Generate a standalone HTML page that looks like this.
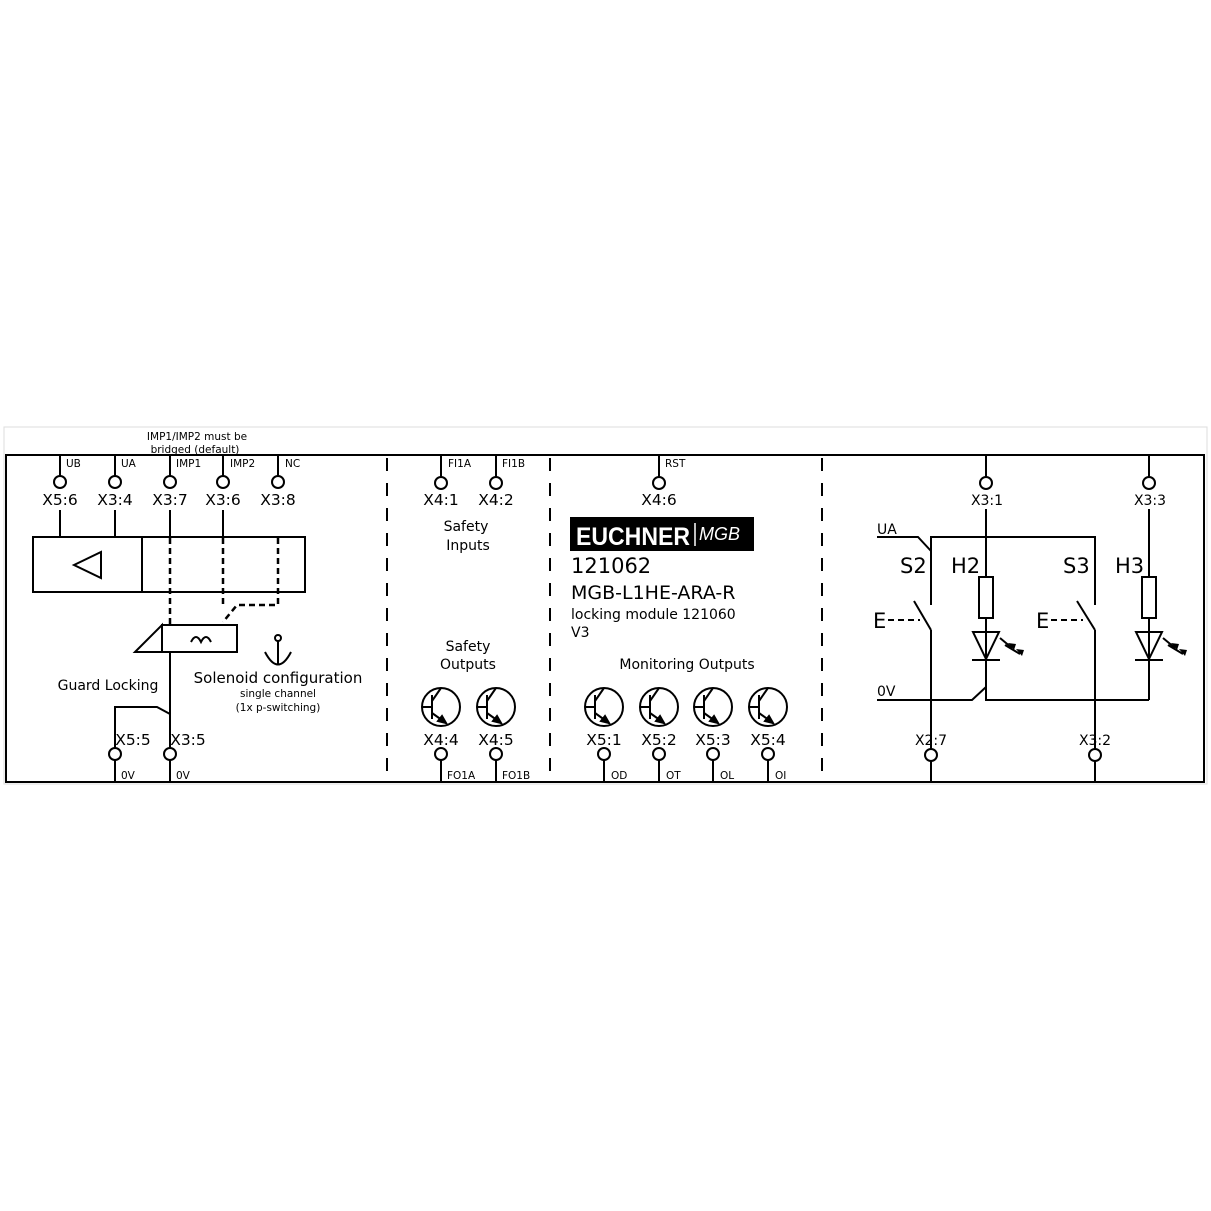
<!DOCTYPE html>
<html><head><meta charset="utf-8"><style>
html,body{margin:0;padding:0;background:#fff;}
svg{display:block;}
text{font-family:"DejaVu Sans","Liberation Sans",sans-serif;fill:#000;}
</style></head><body>
<svg width="1211" height="1211" viewBox="0 0 1211 1211" xmlns="http://www.w3.org/2000/svg">
<rect x="0" y="0" width="1211" height="1211" fill="#fff"/>
<rect x="4" y="427" width="1203" height="357" fill="none" stroke="#ddd" stroke-width="1"/>
<g stroke="#000" stroke-width="2" fill="none">
<rect x="6" y="455" width="1198" height="327"/>
<line x1="387" y1="458" x2="387" y2="780" stroke-dasharray="13,12"/>
<line x1="550" y1="458" x2="550" y2="780" stroke-dasharray="13,12"/>
<line x1="822" y1="458" x2="822" y2="780" stroke-dasharray="13,12"/>
<line x1="60" y1="455" x2="60" y2="476"/><circle cx="60" cy="482" r="6"/><line x1="60" y1="510" x2="60" y2="537"/>
<line x1="115" y1="455" x2="115" y2="476"/><circle cx="115" cy="482" r="6"/><line x1="115" y1="510" x2="115" y2="537"/>
<line x1="170" y1="455" x2="170" y2="476"/><circle cx="170" cy="482" r="6"/><line x1="170" y1="510" x2="170" y2="537"/>
<line x1="223" y1="455" x2="223" y2="476"/><circle cx="223" cy="482" r="6"/><line x1="223" y1="510" x2="223" y2="537"/>
<line x1="278" y1="455" x2="278" y2="476"/><circle cx="278" cy="482" r="6"/>
<rect x="33" y="537" width="272" height="55"/>
<line x1="142" y1="537" x2="142" y2="592"/>
<polygon points="74,565 101,552 101,578"/>
<g stroke-width="2.5" stroke-dasharray="6,4">
<line x1="170" y1="538" x2="170" y2="624"/>
<line x1="223" y1="538" x2="223" y2="605"/>
<polyline points="278,538 278,605 237,605 223,622"/>
</g>
<rect x="162" y="625" width="75" height="27"/>
<polygon points="135,652 162,625 162,652"/>
<path d="M191,642 q5,-10 10,0 q5,-10 10,0"/>
<line x1="170" y1="652" x2="170" y2="748"/>
<polyline points="170,714 157,707 115,707 115,748"/>
<circle cx="115" cy="754" r="6"/><line x1="115" y1="760" x2="115" y2="782"/>
<circle cx="170" cy="754" r="6"/><line x1="170" y1="760" x2="170" y2="782"/>
<circle cx="278" cy="638" r="3"/><line x1="278" y1="641" x2="278" y2="665"/><path d="M265,652 q13,25 26,0"/>
<line x1="441" y1="455" x2="441" y2="477"/><circle cx="441" cy="483" r="6"/>
<line x1="496" y1="455" x2="496" y2="477"/><circle cx="496" cy="483" r="6"/>
<line x1="659" y1="455" x2="659" y2="477"/><circle cx="659" cy="483" r="6"/>
</g>
<g stroke="#000" stroke-width="2" fill="none">
<g id="tr"><circle cx="441" cy="707" r="19"/><line x1="422" y1="707" x2="432" y2="707"/><line x1="432" y1="695" x2="432" y2="719"/><line x1="432" y1="701" x2="441" y2="688"/><line x1="432" y1="713" x2="446" y2="723"/><polygon points="446,723 438,721 442,716" fill="#000"/>
<circle cx="441" cy="754" r="6"/><line x1="441" y1="760" x2="441" y2="782"/></g>
<use href="#tr" x="55"/><use href="#tr" x="163"/><use href="#tr" x="218"/><use href="#tr" x="272"/><use href="#tr" x="327"/>
</g>
<g stroke="#000" stroke-width="2" fill="none">
<line x1="986" y1="455" x2="986" y2="477"/><circle cx="986" cy="483" r="6"/><line x1="986" y1="509" x2="986" y2="577"/>
<line x1="1149" y1="455" x2="1149" y2="477"/><circle cx="1149" cy="483" r="6"/><line x1="1149" y1="509" x2="1149" y2="577"/>
<polyline points="877,537 918,537 931,551"/>
<polyline points="931,605 931,537 1095,537 1095,605"/>
<line x1="914" y1="601" x2="931" y2="630"/><line x1="931" y1="630" x2="931" y2="749"/>
<line x1="1077" y1="601" x2="1095" y2="630"/><line x1="1095" y1="630" x2="1095" y2="749"/>
<line x1="888" y1="620" x2="920" y2="620" stroke-dasharray="6,4"/>
<line x1="1051" y1="620" x2="1083" y2="620" stroke-dasharray="6,4"/>
<rect x="979" y="577" width="14" height="41"/><line x1="986" y1="618" x2="986" y2="700"/>
<rect x="1142" y="577" width="14" height="41"/><line x1="1149" y1="618" x2="1149" y2="700"/>
<polygon points="973,632 999,632 986,659"/><line x1="972" y1="660" x2="1000" y2="660"/>
<polygon points="1136,632 1162,632 1149,659"/><line x1="1135" y1="660" x2="1163" y2="660"/>
<line x1="1000" y1="638" x2="1012" y2="648"/><line x1="1005" y1="645" x2="1020" y2="654"/>
<line x1="1163" y1="638" x2="1175" y2="648"/><line x1="1168" y1="645" x2="1183" y2="654"/>
<polyline points="877,700 972,700 986,687"/>
<polyline points="986,687 986,700 1149,700"/>
<circle cx="931" cy="755" r="6"/><line x1="931" y1="761" x2="931" y2="782"/>
<circle cx="1095" cy="755" r="6"/><line x1="1095" y1="761" x2="1095" y2="782"/>
</g>
<g fill="#000"><polygon points="1014,650 1008,643 1016,644"/><polygon points="1022,656 1016,649 1024,650"/>
<polygon points="1177,650 1171,643 1179,644"/><polygon points="1185,656 1179,649 1187,650"/></g>
<rect x="570" y="517" width="184" height="34" fill="#000"/>
<text x="576" y="545" font-size="25" font-weight="bold" style="fill:#fff;font-family:'Liberation Sans',sans-serif" textLength="114" lengthAdjust="spacingAndGlyphs">EUCHNER</text>
<line x1="695" y1="523" x2="695" y2="546" stroke="#fff" stroke-width="1.5"/>
<text x="699" y="540" font-size="18" font-style="italic" style="fill:#fff;font-family:'Liberation Sans',sans-serif">MGB</text>
<g font-size="10.5">
<text x="66" y="467">UB</text><text x="121" y="467">UA</text><text x="176" y="467">IMP1</text><text x="230" y="467">IMP2</text><text x="285" y="467">NC</text>
<text x="448" y="467">FI1A</text><text x="502" y="467">FI1B</text><text x="665" y="467">RST</text>
<text x="121" y="779">0V</text><text x="176" y="779">0V</text>
<text x="447" y="779">FO1A</text><text x="502" y="779">FO1B</text>
<text x="611" y="779">OD</text><text x="666" y="779">OT</text><text x="720" y="779">OL</text><text x="775" y="779">OI</text>
<text x="197" y="440" text-anchor="middle">IMP1/IMP2 must be</text>
<text x="195" y="453" text-anchor="middle">bridged (default)</text>
<text x="278" y="697" text-anchor="middle">single channel</text>
<text x="278" y="711" text-anchor="middle">(1x p-switching)</text>
</g>
<g font-size="15.5" text-anchor="middle">
<text x="60" y="505">X5:6</text><text x="115" y="505">X3:4</text><text x="170" y="505">X3:7</text><text x="223" y="505">X3:6</text><text x="278" y="505">X3:8</text>
<text x="441" y="505">X4:1</text><text x="496" y="505">X4:2</text><text x="659" y="505">X4:6</text>
<text x="441" y="745">X4:4</text><text x="496" y="745">X4:5</text>
<text x="604" y="745">X5:1</text><text x="659" y="745">X5:2</text><text x="713" y="745">X5:3</text><text x="768" y="745">X5:4</text>
<text x="133" y="745">X5:5</text><text x="188" y="745">X3:5</text>
</g>
<g font-size="14" text-anchor="middle">
<text x="987" y="505">X3:1</text><text x="1150" y="505">X3:3</text>
<text x="931" y="745">X2:7</text><text x="1095" y="745">X3:2</text>
<text x="466" y="531">Safety</text><text x="468" y="550">Inputs</text>
<text x="468" y="651">Safety</text><text x="468" y="669">Outputs</text>
<text x="687" y="669">Monitoring Outputs</text>
<text x="108" y="690">Guard Locking</text>
</g>
<text x="278" y="683" font-size="15" text-anchor="middle">Solenoid configuration</text>
<text x="877" y="534" font-size="14">UA</text>
<text x="877" y="696" font-size="14">0V</text>
<g font-size="21">
<text x="900" y="573">S2</text><text x="951" y="573">H2</text><text x="1063" y="573">S3</text><text x="1115" y="573">H3</text>
<text x="873" y="628">E</text><text x="1036" y="628">E</text>
</g>
<text x="571" y="573" font-size="21">121062</text>
<text x="571" y="599" font-size="19">MGB-L1HE-ARA-R</text>
<text x="571" y="619" font-size="14">locking module 121060</text>
<text x="571" y="637" font-size="14">V3</text>
</svg>
</body></html>
